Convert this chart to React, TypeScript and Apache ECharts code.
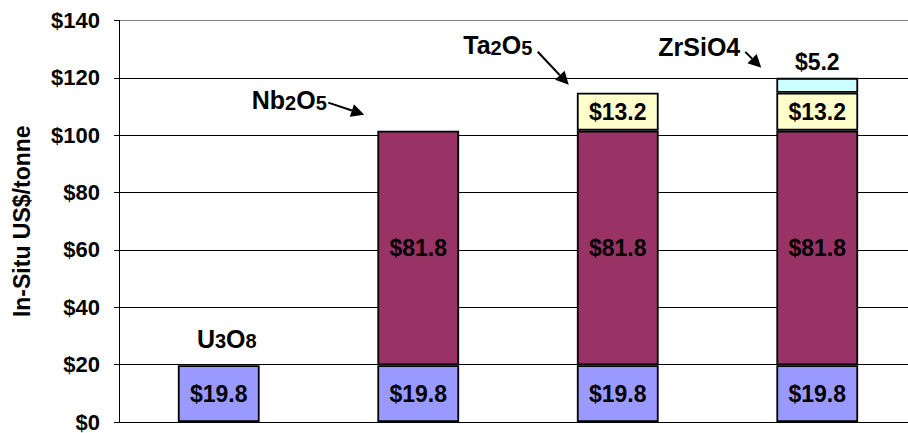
import React, { useEffect, useRef } from "react";
import * as echarts from "echarts";

const categories = ["U3O8", "Nb2O5", "Ta2O5", "ZrSiO4"];
const u3o8Values = [19.8, 19.8, 19.8, 19.8];
const nb2o5Values = [null, 81.8, 81.8, 81.8];
const ta2o5Values = [null, null, 13.2, 13.2];
const zrsio4Values = [null, null, null, 5.2];
const yMin = 0;
const yMax = 140;
const yInterval = 20;
const yAxisTitle = "In-Situ US$/tonne";

// annotation labels: [text, isSubscript] parts
const annotationParts: [string, boolean][][] = [
  [["U", false], ["3", true], ["O", false], ["8", true]],
  [["Nb", false], ["2", true], ["O", false], ["5", true]],
  [["Ta", false], ["2", true], ["O", false], ["5", true]],
  [["ZrSiO4", false]],
];
const annotationHasArrow = [false, true, true, true];

const FONT = "'Liberation Sans', Arial, Helvetica, sans-serif";

const seriesDefs = [
  { name: "U3O8", data: u3o8Values, color: "#9999FF", pos: "inside" },
  { name: "Nb2O5", data: nb2o5Values, color: "#993366", pos: "inside" },
  { name: "Ta2O5", data: ta2o5Values, color: "#FFFFCC", pos: "inside" },
  { name: "ZrSiO4", data: zrsio4Values, color: "#CCFFFF", pos: "top" },
];

// layout offsets (px) relative to stack top centre
const textOffsets = [
  [8, -28],
  [-129, -32],
  [-120, -49],
  [-118, -32],
];
const arrowOffsets = [
  null,
  [-90, -28, -54, -16],
  [-80, -41, -49, -8],
  [-72, -26, -56, -10],
];

export default function App() {
  const ref = useRef<HTMLDivElement>(null);
  useEffect(() => {
    const el = ref.current!;
    const chart = echarts.init(el, null, { renderer: "svg" });
    const gridColors = ["#000", "#000", "#000", "#000", "#000", "#000", "#000", "#808080"];
    chart.setOption({
      animation: false,
      textStyle: { fontFamily: FONT },
      grid: { left: 119, top: 20.5, width: 798, height: 403, containLabel: false },
      xAxis: {
        type: "category",
        data: categories,
        axisLine: { show: true, lineStyle: { color: "#000", width: 1 } },
        axisTick: { show: false },
        axisLabel: { show: false },
      },
      yAxis: {
        type: "value",
        min: yMin,
        max: yMax,
        interval: yInterval,
        name: yAxisTitle,
        nameLocation: "middle",
        nameGap: 86,
        nameTextStyle: { fontSize: 23, fontWeight: "bold", color: "#000", fontFamily: FONT },
        axisLine: { show: true, lineStyle: { color: "#000", width: 1 } },
        axisTick: { show: true, length: 5, lineStyle: { color: "#000" } },
        axisLabel: {
          margin: 19,
          fontSize: 22,
          fontWeight: "bold",
          color: "#000",
          fontFamily: FONT,
          formatter: (v: number) => "$" + v,
        },
        splitLine: { show: true, lineStyle: { color: gridColors, width: 1 } },
      },
      series: seriesDefs.map((s) => ({
        name: s.name,
        type: "bar",
        stack: "total",
        barWidth: "41%",
        data: s.data,
        itemStyle: { color: s.color, borderColor: "#000", borderWidth: 1.8 },
        label: {
          show: true,
          position: s.pos,
          distance: 4,
          fontSize: 23,
          fontWeight: "bold",
          color: "#000",
          fontFamily: FONT,
          formatter: (p: any) => "$" + Number(p.value).toFixed(1),
        },
      })),
    });

    const graphics: any[] = [];
    categories.forEach((cat, i) => {
      const total = [u3o8Values, nb2o5Values, ta2o5Values, zrsio4Values].reduce(
        (acc, arr) => acc + (arr[i] == null ? 0 : (arr[i] as number)),
        0
      );
      const [cx, ty] = chart.convertToPixel({ xAxisIndex: 0, yAxisIndex: 0 }, [cat, total]) as number[];
      const parts = annotationParts[i];
      const text = parts.map(([t, sub]) => (sub ? `{s|${t}}` : `{m|${t}}`)).join("");
      graphics.push({
        type: "text",
        x: cx + textOffsets[i][0],
        y: ty + textOffsets[i][1],
        style: {
          text,
          align: "center",
          verticalAlign: "middle",
          rich: {
            m: { fontSize: 25, fontWeight: "bold", fontFamily: FONT, fill: "#000", verticalAlign: "bottom", lineHeight: 28 },
            s: { fontSize: 20, fontWeight: "bold", fontFamily: FONT, fill: "#000", verticalAlign: "bottom", lineHeight: 25 },
          },
        },
      });
      const a = arrowOffsets[i];
      if (annotationHasArrow[i] && a) {
        const x1 = cx + a[0], y1 = ty + a[1], x2 = cx + a[2], y2 = ty + a[3];
        const dx = x2 - x1, dy = y2 - y1;
        const len = Math.sqrt(dx * dx + dy * dy);
        const ux = dx / len, uy = dy / len;
        const headL = 13, headW = 6.5;
        const bx = x2 - ux * headL, by = y2 - uy * headL;
        graphics.push({
          type: "line",
          shape: { x1, y1, x2: bx, y2: by },
          style: { stroke: "#000", lineWidth: 2 },
        });
        graphics.push({
          type: "polygon",
          shape: {
            points: [
              [x2, y2],
              [bx - uy * headW, by + ux * headW],
              [bx + uy * headW, by - ux * headW],
            ],
          },
          style: { fill: "#000" },
        });
      }
    });
    chart.setOption({ graphic: graphics });

    return () => chart.dispose();
  }, []);
  return (
    <div
      style={{ position: "absolute", left: 0, top: 0, width: 908, height: 433, overflow: "hidden", background: "#fff" }}
    >
      <div ref={ref} style={{ position: "absolute", left: 0, top: 0, width: 930, height: 433 }} />
    </div>
  );
}
